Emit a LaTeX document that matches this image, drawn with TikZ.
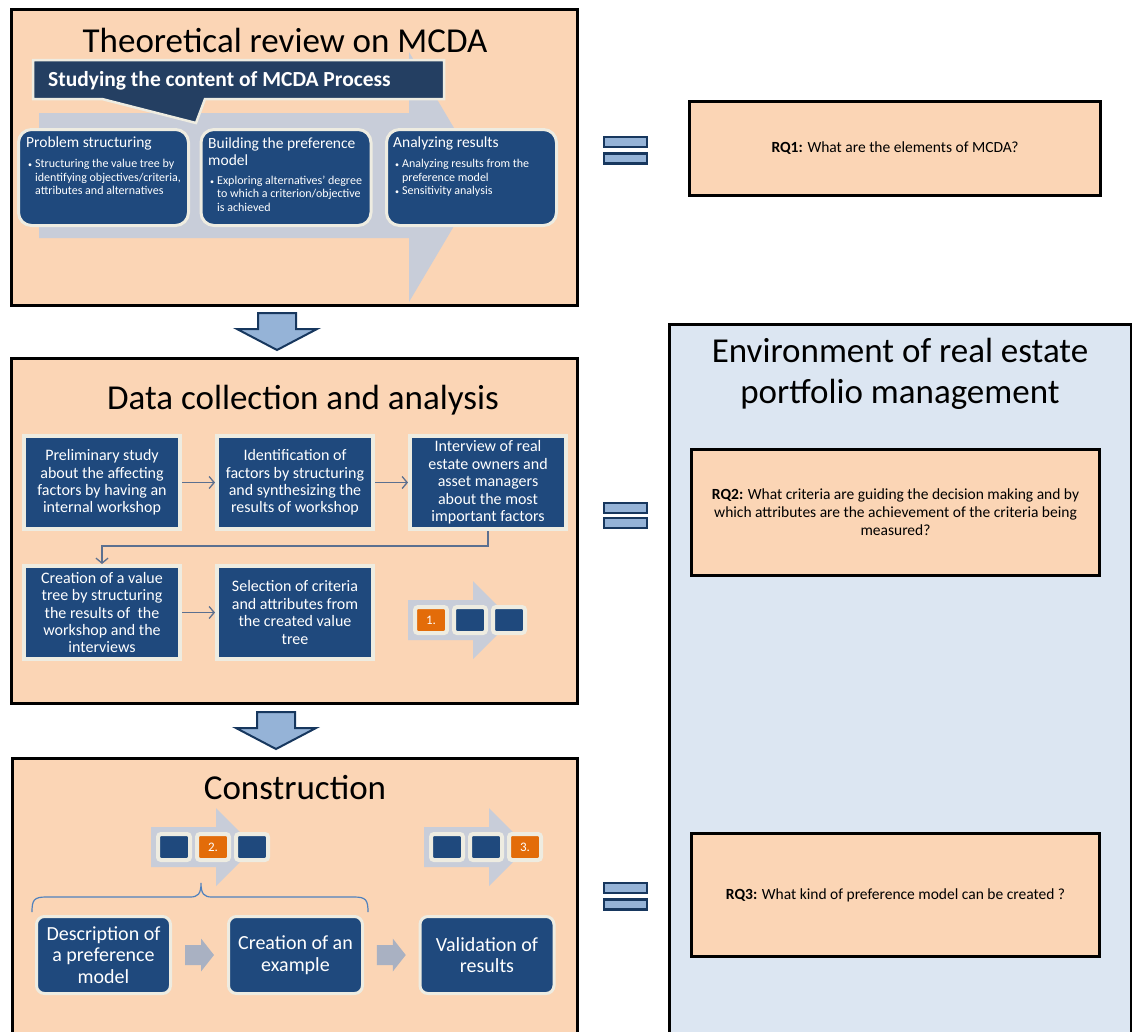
\documentclass[tikz,border=0pt]{standalone}
\usepackage{fontspec}
\setmainfont{Carlito}
\usetikzlibrary{arrows.meta,calc}

\definecolor{peach}{HTML}{FBD5B5}
\definecolor{navy}{HTML}{1F497D}
\definecolor{calloutc}{HTML}{243F62}
\definecolor{cream}{HTML}{EEECE1}
\definecolor{garrow}{HTML}{C8CDD9}
\definecolor{fatarr}{HTML}{A9B1C2}
\definecolor{orng}{HTML}{E36C09}
\definecolor{eqfill}{HTML}{95B3D7}
\definecolor{eqdraw}{HTML}{17375E}
\definecolor{envfill}{HTML}{DCE6F2}
\definecolor{conn}{HTML}{5B7090}
\definecolor{bracec}{HTML}{4F81BD}

\newcommand\fs[2]{\fontsize{#1}{#2}\selectfont}

% three-step progress strip: name prefix, body left x, centre y, active step
\newcommand\stepstrip[4]{%
  \fill[garrow] (#2,#3) ++(0,-20) -- ++(65,0) -- ++(0,-19) -- ++(39,39)
    -- ++(-39,39) -- ++(0,-19) -- ++(-65,0) -- cycle;
  \foreach \k in {1,2,3}{%
    \ifnum\k=#4\relax\def\sqfill{orng}\def\sqtext{\k.}\else\def\sqfill{navy}\def\sqtext{}\fi
    \node[stepsq, fill=\sqfill] (#1-\k) at ({#2+23+(\k-1)*39}, #3) {\sqtext};
  }%
}

% block arrow pointing down: top centre x, y
\newcommand\downarrowat[2]{%
  \draw[blockarrow] (#1,#2) ++(-19,0) -- ++(38,0) -- ++(0,16) -- ++(21,0)
    -- ++(-40,21) -- ++(-40,-21) -- ++(21,0) -- cycle;
}

% wide gray arrow centred between two nodes
\newcommand\fatarrowbetween[2]{%
  \fill[fatarr] ($(#1.east)!0.5!(#2.west)$) ++(-14.5,-10) -- ++(16,0) -- ++(0,-6.5)
    -- ++(13,16.5) -- ++(-13,16.5) -- ++(0,-6.5) -- ++(-16,0) -- cycle;
}

\begin{document}
\begin{tikzpicture}[x=1pt,y=-1pt,
  panel/.style={draw=black, line width=3pt, fill=peach, inner sep=0pt},
  envpanel/.style={draw=black, line width=3pt, fill=envfill, inner sep=0pt},
  ttl/.style={font=\fs{35}{41}, text=black, inner sep=0pt, align=center},
  tbox/.style={draw=cream, line width=3pt, fill=navy, rounded corners=13pt,
    minimum width=170pt, minimum height=96pt, inner sep=0pt},
  thead/.style={text=white, font=\fs{15.5}{17}, align=left, inner sep=0pt, anchor=west},
  tbul/.style={text=white, font=\fs{12}{13.5}, inner sep=0pt, anchor=west},
  dbox/.style={draw=cream, line width=4pt, fill=navy, text=white, minimum width=156pt,
    minimum height=93pt, inner sep=0pt, align=center, font=\fs{16}{17.4}},
  flow/.style={draw=conn, line width=1.3pt, -{Straight Barb[length=5pt,width=12pt]}},
  bbox/.style={draw=cream, line width=3pt, fill=navy, text=white, rounded corners=8pt,
    minimum width=134pt, minimum height=77pt, inner sep=0pt, align=center,
    font=\fs{20}{21.5}},
  rq/.style={draw=black, line width=3pt, fill=peach, inner sep=0pt, align=center,
    font=\fs{15.5}{18}},
  eqbar/.style={draw=eqdraw, line width=2.5pt, fill=eqfill, minimum width=43pt,
    minimum height=10pt, inner sep=0pt},
  stepsq/.style={draw=cream, line width=4pt, rounded corners=3pt, minimum width=32pt,
    minimum height=26pt, inner sep=0pt, text=white, font=\fs{13}{13}},
  blockarrow/.style={draw=eqdraw, line width=2pt, fill=eqfill, line join=miter},
  bracel/.style={draw=bracec, line width=1.2pt},
]
\useasboundingbox (0,0) rectangle (1132,1031);
\clip (0,0) rectangle (1132,1031);

% ---------- panels ----------
\node[panel, minimum width=566pt, minimum height=296pt] (theo) at (294,157) {};
\node[panel, minimum width=566pt, minimum height=345pt] (data) at (294,530.5) {};
\node[panel, minimum width=565pt, minimum height=290pt] (cons) at (294.5,903) {};
\node[envpanel, minimum width=462pt, minimum height=720pt] (env) at (900,684) {};

% ---------- theoretical review ----------
\fill[garrow] (39,113) -- (409,113) -- (409,52) -- (483,177) -- (409,302)
  -- (409,238) -- (39,238) -- cycle;
\node[ttl] (theoT) at (285,40) {Theoretical review on MCDA};

\draw[draw=cream, line width=2.5pt, fill=calloutc, line join=miter]
  (33,60) -- (444,60) -- (444,99) -- (205,99) -- (196,123) -- (102,99) -- (33,99) -- cycle;
\node[anchor=west, inner sep=0pt, text=white, font=\fs{21.5}{21.5}\bfseries] (callout)
  at (48,81) {Studying the content of MCDA Process};

\node[tbox] (ps) at (103.5,177.5) {};
\node[tbox] (bp) at (286,177.5) {};
\node[tbox] (ar) at (471.5,177.5) {};

\node[thead] (psH) at (26,143) {Problem structuring};
\node[tbul] (psB) at (28,178.5) {\begin{tabular}{@{}l@{\hspace{3pt}}l@{}}
  {\fs{8}{8}\textbullet} & Structuring the value tree by\\
   & identifying objectives/criteria,\\
   & attributes and alternatives\end{tabular}};

\node[thead] (bpH) at (208,151.5) {Building the preference\\model};
\node[tbul] (bpB) at (210,195) {\begin{tabular}{@{}l@{\hspace{3pt}}l@{}}
  {\fs{8}{8}\textbullet} & Exploring alternatives' degree\\
   & to which a criterion/objective\\
   & is achieved\end{tabular}};

\node[thead] (arH) at (393,143) {Analyzing results};
\node[tbul] (arB) at (395,178.5) {\begin{tabular}{@{}l@{\hspace{3pt}}l@{}}
  {\fs{8}{8}\textbullet} & Analyzing results from the\\
   & preference model\\
  {\fs{8}{8}\textbullet} & Sensitivity analysis\end{tabular}};

% ---------- research questions ----------
\node[rq, minimum width=411pt, minimum height=94pt] (rq1) at (895,148.5)
  {\textbf{RQ1:} What are the elements of MCDA?};
\node[ttl] (envT) at (900,374) {Environment of real estate\\portfolio management};
\node[rq, minimum width=408pt, minimum height=126pt] (rq2) at (895.5,512.5)
  {\textbf{RQ2:} What criteria are guiding the decision making and by\\
   which attributes are the achievement of the criteria being\\ measured?};
\node[rq, minimum width=408pt, minimum height=123pt] (rq3) at (895.5,895)
  {\textbf{RQ3:} What kind of preference model can be created ?};

% equals signs
\node[eqbar] (eq1a) at (625.5,142) {};
\node[eqbar] (eq1b) at (625.5,158.5) {};
\node[eqbar] (eq2a) at (625.5,508) {};
\node[eqbar] (eq2b) at (625.5,523) {};
\node[eqbar] (eq3a) at (625.5,888) {};
\node[eqbar] (eq3b) at (625.5,904.5) {};

% down arrows between panels
\downarrowat{277}{313}
\downarrowat{276}{712}

% ---------- data collection ----------
\node[ttl] (dataT) at (303,400) {Data collection and analysis};
\node[dbox] (pre) at (102,482.5) {Preliminary study\\about the affecting\\factors by having an\\internal workshop};
\node[dbox] (ide) at (295,482.5) {Identification of\\factors by structuring\\and synthesizing the\\results of workshop};
\node[dbox] (int) at (488,482.5) {Interview of real\\estate owners and\\asset managers\\about the most\\important factors};
\node[dbox] (cre) at (102,612.5) {Creation of a value\\tree by structuring\\the results of~ the\\workshop and the\\interviews};
\node[dbox] (sel) at (295,612.5) {Selection of criteria\\and attributes from\\the created value\\tree};

\draw[flow] (pre) -- (ide);
\draw[flow] (ide) -- (int);
\draw[flow] (int.south) -- ++(0,15) -| (cre.north);
\draw[flow] (cre) -- (sel);

\stepstrip{stA}{408}{620}{1}

% ---------- construction ----------
\node[ttl] (consT) at (295,788) {Construction};
\stepstrip{stB}{151}{847}{2}
\stepstrip{stC}{424}{847}{3}

\draw[bracel] (32,912) .. controls (32,900) and (34,897) .. (46,897) -- (190,897)
  .. controls (198,897) and (201,894) .. (201,883)
  .. controls (201,894) and (204,897) .. (212,897) -- (354,897)
  .. controls (366,897) and (368,900) .. (368,912);

\node[bbox] (desc) at (103.5,955) {Description of\\a preference\\model};
\node[bbox] (exa) at (295.5,955) {Creation of an\\example};
\node[bbox] (val) at (487,955) {Validation of\\results};
\fatarrowbetween{desc}{exa}
\fatarrowbetween{exa}{val}
\end{tikzpicture}
\end{document}
